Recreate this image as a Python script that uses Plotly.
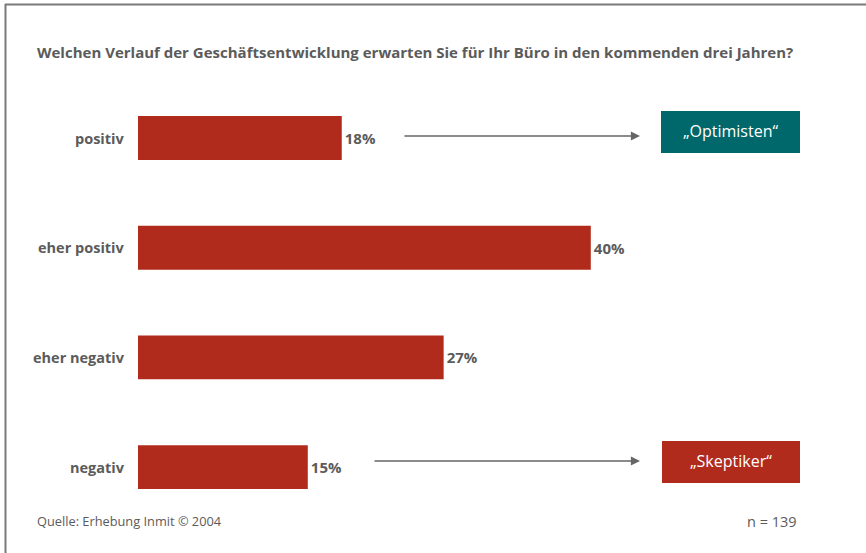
import plotly.graph_objects as go

# Survey results: expected business development over the next three years
categories = ["positiv", "eher positiv", "eher negativ", "negativ"]
shares = [18, 40, 27, 15]
value_labels = ["18%", "40%", "27%", "15%"]

title_text = "Welchen Verlauf der Geschäftsentwicklung erwarten Sie für Ihr Büro in den kommenden drei Jahren?"
source_text = "Quelle: Erhebung Inmit © 2004"
sample_text = "n = 139"
group_labels = ["„Optimisten“", "„Skeptiker“"]

W, H = 866, 553
BAR_RED = "#B12B1D"
TEAL = "#00676A"
TEXT_GRAY = "#5B5B5B"
FONT = "Open Sans"

# pixel layout helpers (margins are zero, so paper == full page)
def px(x):
    return x / W

def py(y):
    return 1 - y / H

X0_PX = 138          # where the bars start
PX_PER_PCT = 11.32   # horizontal scale
ROW0_PX = 138        # centre of the first row
ROW_STEP = 109.7     # row spacing

x_range = [-X0_PX / PX_PER_PCT, (W - X0_PX) / PX_PER_PCT]
y_range = [(H - ROW0_PX) / ROW_STEP, -ROW0_PX / ROW_STEP]

fig = go.Figure()
fig.add_trace(go.Bar(
    x=shares,
    y=categories,
    orientation="h",
    width=0.4,
    marker=dict(color=BAR_RED, line=dict(width=0)),
    text=value_labels,
    texttemplate="<b>%{text}</b>",
    textposition="outside",
    textfont=dict(family=FONT, size=15, color=TEXT_GRAY),
    cliponaxis=False,
    hoverinfo="skip",
))

annotations = []
# category labels, right-aligned left of the bars
for cat in categories:
    annotations.append(dict(
        x=px(127), xref="paper", xanchor="right",
        y=cat, yref="y", yanchor="middle",
        text=f"<b>{cat}</b>", showarrow=False,
        font=dict(family=FONT, size=14.5, color=TEXT_GRAY),
    ))

# title, source and sample size
annotations += [
    dict(x=px(35), y=py(52), xref="paper", yref="paper", xanchor="left", yanchor="middle",
         text=f"<b>{title_text}</b>", showarrow=False,
         font=dict(family=FONT, size=15, color=TEXT_GRAY)),
    dict(x=px(35), y=py(521), xref="paper", yref="paper", xanchor="left", yanchor="middle",
         text=source_text, showarrow=False,
         font=dict(family=FONT, size=12.8, color=TEXT_GRAY)),
    dict(x=px(799), y=py(521), xref="paper", yref="paper", xanchor="right", yanchor="middle",
         text=sample_text, showarrow=False,
         font=dict(family=FONT, size=14.5, color=TEXT_GRAY)),
]

# arrows pointing to the group boxes
for y_px, x_start, x_end in [(136, 403, 640), (461, 373, 640)]:
    annotations.append(dict(
        x=px(x_end), y=py(y_px), xref="paper", yref="paper",
        ax=-(x_end - x_start), ay=0, axref="pixel", ayref="pixel",
        showarrow=True, arrowhead=2, arrowsize=1.3, arrowwidth=1.4,
        arrowcolor="#666666", text="",
    ))

# group boxes
boxes = [(661, 111, 800, 153, TEAL, group_labels[0]),
         (662, 441, 800, 483, BAR_RED, group_labels[1])]
shapes = []
for x0, y0, x1, y1, color, label in boxes:
    shapes.append(dict(type="rect", xref="paper", yref="paper",
                       x0=px(x0), x1=px(x1), y0=py(y1), y1=py(y0),
                       fillcolor=color, line=dict(width=0), layer="above"))
    annotations.append(dict(
        x=px((x0 + x1) / 2), y=py((y0 + y1) / 2 - 1), xref="paper", yref="paper",
        xanchor="center", yanchor="middle", text=label, showarrow=False,
        font=dict(family=FONT, size=16, color="white"),
    ))

# frame lines along the top and left edges
shapes += [
    dict(type="line", xref="paper", yref="paper", x0=px(5), x1=1, y0=py(4.5), y1=py(4.5),
         line=dict(color="#7A7A7A", width=2)),
    dict(type="line", xref="paper", yref="paper", x0=px(5.5), x1=px(5.5), y0=0, y1=py(4),
         line=dict(color="#7A7A7A", width=2)),
]

fig.update_layout(
    width=W, height=H,
    margin=dict(l=0, r=0, t=0, b=0),
    paper_bgcolor="white", plot_bgcolor="white",
    showlegend=False,
    xaxis=dict(range=x_range, visible=False, fixedrange=True),
    yaxis=dict(range=y_range, visible=False, fixedrange=True,
               categoryorder="array", categoryarray=categories),
    annotations=annotations,
    shapes=shapes,
    uniformtext=dict(mode=False),
)

fig.write_html("out.html", config={"displayModeBar": False})
